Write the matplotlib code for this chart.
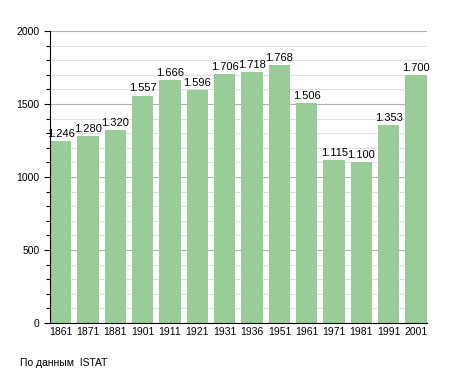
import numpy as np
import matplotlib
matplotlib.use("Agg")
import matplotlib.pyplot as plt
from matplotlib.ticker import MultipleLocator

# Dati del censimento
years = ["1861", "1871", "1881", "1901", "1911", "1921", "1931",
         "1936", "1951", "1961", "1971", "1981", "1991", "2001"]
population = [1246, 1280, 1320, 1557, 1666, 1596, 1706,
              1718, 1768, 1506, 1115, 1100, 1353, 1700]
source_note = "По данным  ISTAT"

plt.rcParams['font.family'] = ['Liberation Sans', 'DejaVu Sans']

fig = plt.figure(figsize=(4.55, 3.73), dpi=100)
ax = fig.add_axes([0.110, 0.134, 0.828, 0.783])

x = np.arange(len(years))
bars = ax.bar(x, population, width=0.78, color="#99cc99", zorder=2)

for xi, val in zip(x, population):
    label = f"{val:,}".replace(",", ".")
    ax.text(xi, val + 15, label, ha="center", va="bottom", fontsize=8, zorder=3)

ax.set_xlim(-0.39, len(years) - 1 + 0.39)
ax.set_ylim(0, 2000)
ax.set_xticks(x)
ax.set_xticklabels(years, fontsize=7.5)
ax.yaxis.set_major_locator(MultipleLocator(500))
ax.yaxis.set_minor_locator(MultipleLocator(100))
ax.tick_params(axis="y", labelsize=7.5, length=4, width=0.8)
ax.tick_params(axis="y", which="minor", length=3, width=0.8)
ax.tick_params(axis="x", length=0, pad=3)

ax.grid(axis="y", which="major", color="#b0b0b0", linewidth=0.8, zorder=0)
ax.grid(axis="y", which="minor", color="#e0e0e0", linewidth=0.8, zorder=0)

for side in ["top", "right"]:
    ax.spines[side].set_visible(False)

fig.text(20 / 455, 1 - 363 / 373, source_note, fontsize=7.5, va="center", ha="left")

fig.savefig("out.png", dpi=100)
